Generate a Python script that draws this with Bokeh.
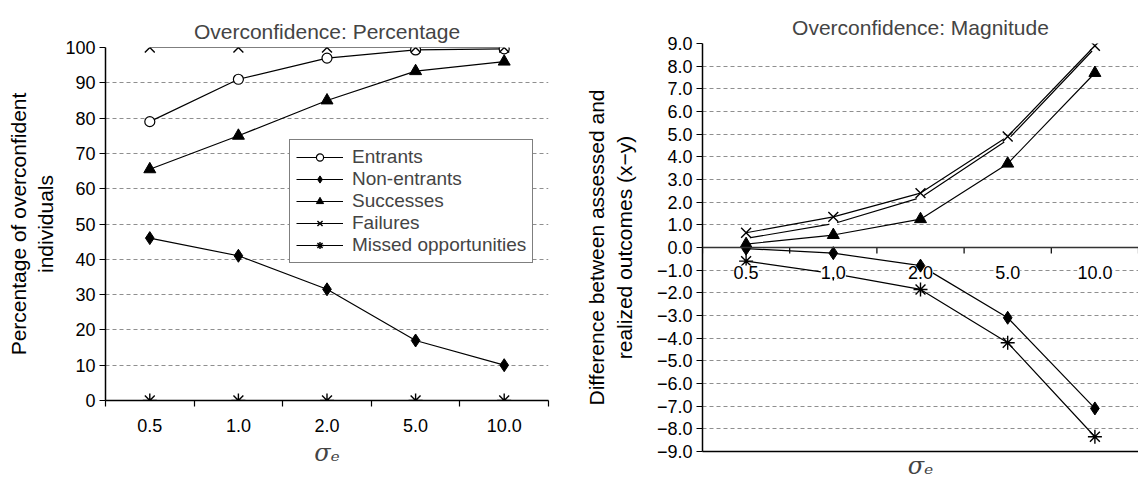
import math
from bokeh.plotting import figure
from bokeh.models import Range1d, FixedTicker, Legend, LegendItem, Span
from bokeh.core.properties import value
from bokeh.core.templates import get_env
from bokeh.embed import file_html
from bokeh.resources import INLINE

# ---------------- data ----------------
sigma = ["0.5", "1.0", "2.0", "5.0", "10.0"]

pct_entrants = [79, 91, 97, 99.3, 99.6]
pct_non_entrants = [46, 41, 31.5, 17, 10]
pct_successes = [65.5, 75, 85, 93.3, 96]
pct_failures = [100, 100, 100, 100, 100]
pct_missed = [0, 0, 0, 0, 0]

mag_entrants = [0.4, 1.05, 2.2, 4.75, 8.8]
mag_non_entrants = [-0.05, -0.25, -0.8, -3.1, -7.1]
mag_successes = [0.15, 0.55, 1.25, 3.7, 7.7]
mag_failures = [0.65, 1.35, 2.4, 4.9, 8.9]
mag_missed = [-0.6, -1.15, -1.85, -4.2, -8.35]

pct_ticks = list(range(0, 101, 10))
mag_ticks = list(range(-9, 10))
mag_labels = {t: f"{t:.1f}".replace("-", "\u2212") for t in mag_ticks}

series_names = ["Entrants", "Non-entrants", "Successes", "Failures", "Missed opportunities"]
markers = ["circle", "diamond", "triangle", "x", "asterisk"]

# category slots: centre of each category and the boundaries between them
n_cat = len(sigma)
cat_pos = [i + 0.5 for i in range(n_cat)]
cat_edges = list(range(n_cat + 1))
cat_label_map = dict(zip(cat_pos, sigma))

FONT = "Liberation Sans"
SERIF = "DejaVu Serif"
TICK_FS = "18px"


def style_common(p, ticks, overrides=None, label_standoff=6):
    p.title.text_font = FONT
    p.title.text_font_size = "21px"
    p.title.text_font_style = "normal"
    p.title.align = "center"
    p.outline_line_color = None
    p.xgrid.grid_line_color = None
    p.ygrid.grid_line_color = "#8f8f8f"
    p.ygrid.grid_line_dash = "4 3"
    p.ygrid.ticker = FixedTicker(ticks=ticks)
    ya = p.yaxis[0]
    ya.ticker = FixedTicker(ticks=ticks)
    if overrides:
        ya.major_label_overrides = overrides
    ya.axis_line_color = "black"
    ya.axis_line_width = 1.5
    ya.major_tick_line_color = "black"
    ya.major_tick_out = 6
    ya.major_tick_in = 0
    ya.minor_tick_line_color = None
    ya.major_label_text_font = FONT
    ya.major_label_text_font_size = TICK_FS
    ya.major_label_text_color = "black"
    ya.major_label_standoff = 4
    ya.axis_label_text_font = FONT
    ya.axis_label_text_font_size = "21px"
    ya.axis_label_text_font_style = "normal"
    ya.axis_label_text_color = "black"
    ya.axis_label_standoff = label_standoff


def make_marker(p, mk, vals, hidden_circle=False):
    if mk == "circle":
        if hidden_circle:
            return p.scatter(cat_pos, vals, marker="circle", size=8, fill_color="white",
                             line_color=None)
        return p.scatter(cat_pos, vals, marker="circle", size=10, fill_color="white",
                         line_color="black", line_width=1.2)
    if mk in ("x", "asterisk"):
        return p.scatter(cat_pos, vals, marker=mk, size=14, line_color="black", line_width=1.4)
    return p.scatter(cat_pos, vals, marker=mk, size=13 if mk == "diamond" else 12,
                     fill_color="black", line_color="black")


def draw_series(p, values, hidden_circle=False, last=None, before_last=None):
    lines = {}
    for name, vals in zip(series_names, values):
        lines[name] = p.line(cat_pos, vals, line_color="black", line_width=1.2)
    scat = {}
    order = [n for n in series_names if n != last] + ([last] if last else [])
    for name in order:
        i = series_names.index(name)
        if name == last and before_last is not None:
            before_last()
        scat[name] = make_marker(p, markers[i], values[i], hidden_circle)
    return [LegendItem(label=n, renderers=[lines[n], scat[n]]) for n in series_names]


# ---------------- left chart ----------------
p1 = figure(x_range=Range1d(0, n_cat), y_range=Range1d(0, 100), width=572, height=482,
            output_backend="svg", toolbar_location=None, title="Overconfidence: Percentage",
            min_border_left=105, min_border_right=24, min_border_top=47, min_border_bottom=82,
            y_axis_label="Percentage of overconfident\nindividuals")
style_common(p1, pct_ticks, label_standoff=5)
xa = p1.xaxis[0]
xa.ticker = FixedTicker(ticks=cat_pos, minor_ticks=cat_edges)
xa.major_label_overrides = cat_label_map
xa.major_tick_line_color = None
xa.major_tick_out = 0
xa.major_tick_in = 0
xa.minor_tick_line_color = "black"
xa.minor_tick_line_width = 1.2
xa.minor_tick_out = 6
xa.minor_tick_in = 0
xa.axis_line_color = "black"
xa.axis_line_width = 1.5
xa.major_label_text_font = FONT
xa.major_label_text_font_size = TICK_FS
xa.major_label_text_color = "black"
xa.major_label_standoff = 12
xa.axis_label = "\u03c3\u2091"
xa.axis_label_text_font = SERIF
xa.axis_label_text_font_style = "italic"
xa.axis_label_text_font_size = "24px"
xa.axis_label_standoff = 4

items1 = draw_series(p1, [pct_entrants, pct_non_entrants, pct_successes, pct_failures, pct_missed])
leg = Legend(items=items1, location=(184, 137), label_text_font=FONT, label_text_font_size="19px",
             glyph_width=47, glyph_height=18, label_height=18, spacing=0, padding=6,
             border_line_color="black", border_line_width=1, background_fill_alpha=1,
             margin=0, label_standoff=9)
p1.add_layout(leg, "center")

# ---------------- right chart ----------------
p2 = figure(x_range=Range1d(0, n_cat), y_range=Range1d(-9, 9), width=566, height=482,
            output_backend="svg", toolbar_location=None, title="Overconfidence: Magnitude",
            min_border_left=130, min_border_right=0, min_border_top=43, min_border_bottom=25,
            y_axis_label="Difference between assessed and\nrealized outcomes (x\u2212y)")
style_common(p2, mag_ticks, mag_labels, label_standoff=18)
xb = p2.xaxis[0]
xb.ticker = FixedTicker(ticks=[])
xb.major_tick_line_color = None
xb.minor_tick_line_color = None
xb.major_tick_out = 0
xb.axis_line_color = "black"
xb.axis_line_width = 1.5
xb.major_label_standoff = 0
xb.axis_label = "\u03c3\u2091"
xb.axis_label_text_font = SERIF
xb.axis_label_text_font_style = "italic"
xb.axis_label_text_font_size = "24px"
xb.axis_label_standoff = 0

# category axis running through zero
p2.add_layout(Span(location=0, dimension="width", line_color="#333333", line_width=1.5))
p2.ray(x=cat_edges, y=[0] * len(cat_edges), length=6, length_units="screen",
       angle=-math.pi / 2, line_color="black", line_width=1.2)


def category_labels():
    p2.text(x=cat_pos, y=[0] * n_cat, text=sigma, y_offset=18, text_align="center",
            text_baseline="top", text_font=value(FONT), text_font_size=TICK_FS,
            text_color="black", background_fill_color="white")


draw_series(p2, [mag_entrants, mag_non_entrants, mag_successes, mag_failures, mag_missed],
            hidden_circle=True, last="Non-entrants", before_last=category_labels)

# two charts side by side, each laid out on its own
PAGE = get_env().from_string("""<!DOCTYPE html>
<html lang="en">
<head>
<meta charset="utf-8">
<title>{{ title }}</title>
<style>html, body { margin: 0; padding: 0; }</style>
{{ bokeh_css }}
{{ bokeh_js }}
</head>
<body>
{% from macros import embed %}
<div style="display: flex; flex-direction: row; align-items: flex-start;">
{% for doc in docs %}{% for root in doc.roots %}{{ embed(root) }}{% endfor %}{% endfor %}
</div>
{{ plot_script }}
</body>
</html>
""")

open("out.html", "w").write(file_html([p1, p2], INLINE, template=PAGE))
